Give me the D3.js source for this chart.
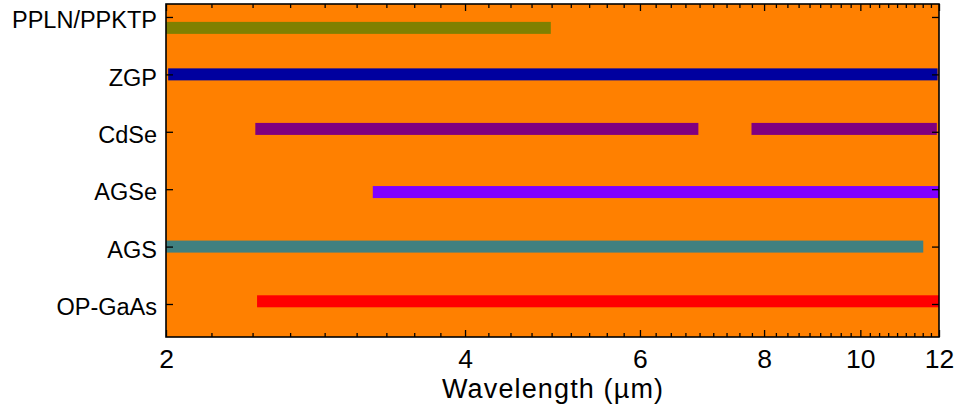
<!DOCTYPE html>
<html>
<head>
<meta charset="utf-8">
<script src="https://cdn.jsdelivr.net/npm/d3@7"></script>
<style>
  html, body { margin: 0; padding: 0; background: #ffffff; }
  svg { display: block; font-family: "Liberation Sans", Arial, sans-serif; }
</style>
</head>
<body>
<svg id="chart" width="957" height="412"></svg>
<script>
// ---- data ----
const categories = ["OP-GaAs", "AGS", "AGSe", "CdSe", "ZGP", "PPLN/PPKTP"]; // bottom to top, axis positions 1..6
const categoryPos = [1, 2, 3, 4, 5, 6];
const barCrystal = ["PPLN/PPKTP", "ZGP", "CdSe", "CdSe", "AGSe", "AGS", "OP-GaAs"];
const barStart   = [2.0, 2.01, 2.46, 7.77, 3.23, 2.0, 2.47];   // µm
const barEnd     = [4.88, 11.96, 6.87, 11.94, 12.0, 11.57, 12.0]; // µm
const barLevel   = [5.81, 5.0, 4.05, 4.05, 2.95, 2.0, 1.047];    // y-axis value of each bar
const barColor   = ["#808000", "#00009f", "#800080", "#800080", "#8000ff", "#408080", "#ff0000"];
const xMajorTicks = [2, 4, 6, 8, 10, 12];
const xDomain = [2, 12];
const yDomain = [0.425, 6.226];

(function () {
// ---- layout ----
const svg = d3.select("#chart");
const mLeft = 166, mRight = 939, mTop = 4, mBottom = 337;

const x = d3.scaleLog().domain(xDomain).range([mLeft, mRight]);
const y = d3.scaleLinear().domain(yDomain).range([mBottom, mTop]);

// background
svg.append("rect")
  .attr("x", mLeft).attr("y", mTop)
  .attr("width", mRight - mLeft).attr("height", mBottom - mTop)
  .attr("fill", "#ff8000");

// bars
const barH = 12;
svg.append("g").selectAll("rect")
  .data(barStart.map((s, i) => ({s, e: barEnd[i], lv: barLevel[i], c: barColor[i], name: barCrystal[i]})))
  .join("rect")
  .attr("x", d => x(d.s))
  .attr("width", d => x(d.e) - x(d.s))
  .attr("y", d => y(d.lv) - barH / 2)
  .attr("height", barH)
  .attr("fill", d => d.c);

// minor ticks (9 equal steps between successive major ticks)
const minorTicks = [];
for (let i = 0; i < xMajorTicks.length - 1; i++) {
  const a = xMajorTicks[i], b = xMajorTicks[i + 1];
  for (let k = 1; k < 9; k++) minorTicks.push(a + (b - a) * k / 9);
}

const axisStyle = g => {
  g.selectAll(".domain").remove();
  g.selectAll("line").attr("stroke", "#000").attr("stroke-width", 1.3);
};

// bottom axis
const gB = svg.append("g").attr("transform", `translate(0,${mBottom})`)
  .call(d3.axisBottom(x).tickValues(xMajorTicks).tickSizeInner(-7).tickSizeOuter(0).tickFormat(d3.format("d")));
axisStyle(gB);
gB.selectAll("text").attr("y", 31).attr("dy", 0)
  .attr("font-size", 26.5).attr("fill", "#000")
  .attr("font-family", "Liberation Sans, Arial, sans-serif");
const gBm = svg.append("g").attr("transform", `translate(0,${mBottom})`)
  .call(d3.axisBottom(x).tickValues(minorTicks).tickSizeInner(-4).tickSizeOuter(0).tickFormat(""));
axisStyle(gBm);

// top axis
const gT = svg.append("g").attr("transform", `translate(0,${mTop})`)
  .call(d3.axisTop(x).tickValues(xMajorTicks).tickSizeInner(-7).tickSizeOuter(0).tickFormat(""));
axisStyle(gT);
const gTm = svg.append("g").attr("transform", `translate(0,${mTop})`)
  .call(d3.axisTop(x).tickValues(minorTicks).tickSizeInner(-4).tickSizeOuter(0).tickFormat(""));
axisStyle(gTm);

// left axis
const gL = svg.append("g").attr("transform", `translate(${mLeft},0)`)
  .call(d3.axisLeft(y).tickValues(categoryPos).tickSizeInner(-7).tickSizeOuter(0).tickPadding(16)
    .tickFormat((d, i) => categories[i]));
axisStyle(gL);
gL.selectAll("text").attr("x", -9).attr("dy", "0.46em")
  .attr("font-size", 23.5).attr("fill", "#000")
  .attr("font-family", "Liberation Sans, Arial, sans-serif");

// right axis
const gR = svg.append("g").attr("transform", `translate(${mRight},0)`)
  .call(d3.axisRight(y).tickValues(categoryPos).tickSizeInner(-7).tickSizeOuter(0).tickFormat(""));
axisStyle(gR);

// frame
svg.append("rect")
  .attr("x", mLeft).attr("y", mTop)
  .attr("width", mRight - mLeft).attr("height", mBottom - mTop)
  .attr("fill", "none").attr("stroke", "#000").attr("stroke-width", 1.6);

// x title
svg.append("text")
  .attr("x", (mLeft + mRight) / 2).attr("y", 398)
  .attr("text-anchor", "middle")
  .attr("font-size", 27)
  .attr("textLength", 221).attr("lengthAdjust", "spacing")
  .text("Wavelength (µm)");
})();
</script>
</body>
</html>
